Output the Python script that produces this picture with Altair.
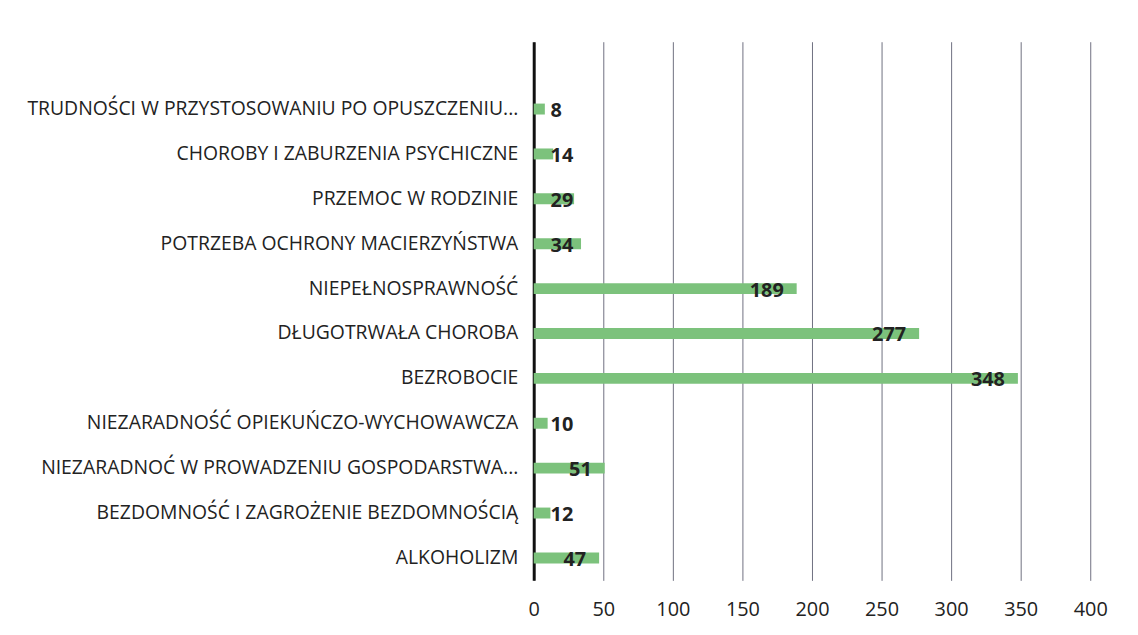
import altair as alt
import pandas as pd

categories = [
    "TRUDNOŚCI W PRZYSTOSOWANIU PO OPUSZCZENIU...",
    "CHOROBY I ZABURZENIA PSYCHICZNE",
    "PRZEMOC W RODZINIE",
    "POTRZEBA OCHRONY MACIERZYŃSTWA",
    "NIEPEŁNOSPRAWNOŚĆ",
    "DŁUGOTRWAŁA CHOROBA",
    "BEZROBOCIE",
    "NIEZARADNOŚĆ OPIEKUŃCZO-WYCHOWAWCZA",
    "NIEZARADNOĆ W PROWADZENIU GOSPODARSTWA...",
    "BEZDOMNOŚĆ I ZAGROŻENIE BEZDOMNOŚCIĄ",
    "ALKOHOLIZM",
]
values = [8, 14, 29, 34, 189, 277, 348, 10, 51, 12, 47]
x_ticks = [0, 50, 100, 150, 200, 250, 300, 350, 400]

df = pd.DataFrame({"kategoria": categories, "liczba": values})

FONT = "Open Sans"

y_enc = alt.Y(
    "kategoria:N",
    sort=categories,
    title=None,
    scale=alt.Scale(paddingInner=0, paddingOuter=0.5, align=1),
    axis=alt.Axis(
        domain=True, domainColor="#111111", domainWidth=3,
        ticks=False, labelPadding=16, labelFontSize=19.5, labelFont=FONT,
        labelColor="#222222", labelLimit=700, grid=False,
    ),
)
x_enc = alt.X(
    "liczba:Q",
    title=None,
    scale=alt.Scale(domain=[0, 400], nice=False),
    axis=alt.Axis(
        values=x_ticks, domain=False, ticks=False, grid=True,
        gridColor="#6f7080", gridWidth=1, labelPadding=19, labelFlush=False,
        labelFontSize=20, labelFont=FONT, labelColor="#222222",
    ),
)

base = alt.Chart(df)

bars = base.mark_bar(height=11, color="#7cc27c").encode(x=x_enc, y=y_enc)

small = base.transform_filter(alt.datum.liczba < 40).mark_text(
    align="left", baseline="middle", dx=17, dy=2, fontSize=20,
    fontWeight="bold", font=FONT, color="#222222",
).encode(x=alt.datum(0), y=alt.Y("kategoria:N", sort=categories), text="liczba:Q")

big = base.transform_filter(alt.datum.liczba >= 40).mark_text(
    align="right", baseline="middle", dx=-13, dy=2, fontSize=20,
    fontWeight="bold", font=FONT, color="#222222",
).encode(x="liczba:Q", y=alt.Y("kategoria:N", sort=categories), text="liczba:Q")

chart = (
    alt.layer(bars, small, big)
    .properties(
        width=560, height=542,
        autosize=alt.AutoSizeParams(type="none"),
        padding={"left": 529, "top": 32, "right": 40, "bottom": 45},
        background="white",
    )
    .configure_view(stroke=None)
)

chart.save("out.html", embed_options={"renderer": "svg", "actions": False})
